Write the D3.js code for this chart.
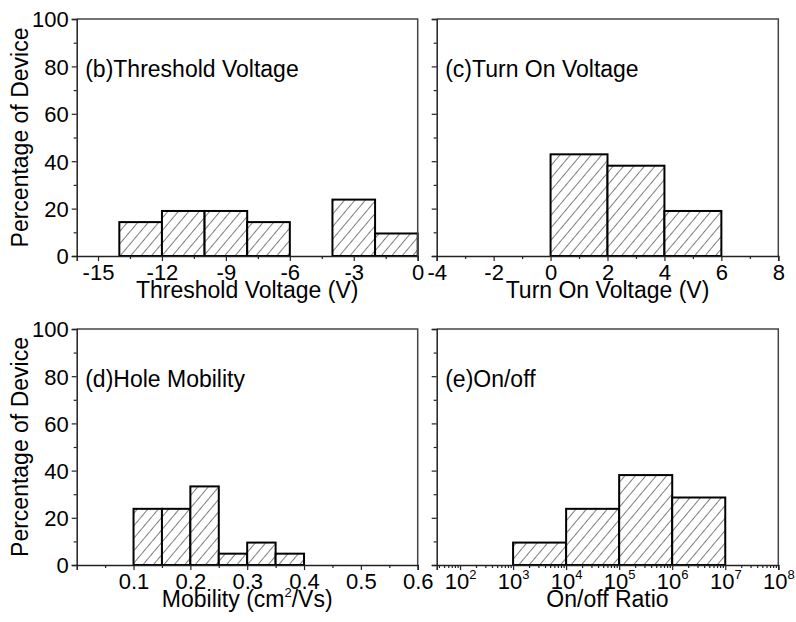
<!DOCTYPE html>
<html>
<head>
<meta charset="utf-8">
<script src="https://cdn.jsdelivr.net/npm/d3@7"></script>
<style>
  html, body { margin: 0; padding: 0; background: #fff; }
  svg text { font-family: "Liberation Sans", Arial, sans-serif; fill: #000; }
</style>
</head>
<body>
<svg id="chart" width="796" height="622"></svg>
<script>
// ---------------- DATA ----------------
const thresholdLo  = [-14, -12, -10, -8, -4, -2];
const thresholdHi  = [-12, -10, -8, -6, -2, 0];
const thresholdPct = [14.3, 19.0, 19.0, 14.3, 23.8, 9.5];

const turnOnLo  = [0, 2, 4];
const turnOnHi  = [2, 4, 6];
const turnOnPct = [42.9, 38.1, 19.0];

const mobilityLo  = [0.10, 0.15, 0.20, 0.25, 0.30, 0.35];
const mobilityHi  = [0.15, 0.20, 0.25, 0.30, 0.35, 0.40];
const mobilityPct = [23.8, 23.8, 33.3, 4.8, 9.5, 4.8];

const onoffLo  = [1e3, 1e4, 1e5, 1e6];
const onoffHi  = [1e4, 1e5, 1e6, 1e7];
const onoffPct = [9.5, 23.8, 38.1, 28.6];

const yTicks = [0, 20, 40, 60, 80, 100];
const yMinor = [10, 30, 50, 70, 90];
const thresholdTicks = [-15, -12, -9, -6, -3, 0];
const thresholdMinor = [-13.5, -10.5, -7.5, -4.5, -1.5];
const turnOnTicks = [-4, -2, 0, 2, 4, 6, 8];
const turnOnMinor = [-3, -1, 1, 3, 5, 7];
const mobilityTicks = [0.1, 0.2, 0.3, 0.4, 0.5, 0.6];
const mobilityMinor = [0.05, 0.15, 0.25, 0.35, 0.45, 0.55];
const onoffTickExp = [2, 3, 4, 5, 6, 7, 8];

const yTitle = "Percentage of Device";

// ---------------- DRAW ----------------
const svg = d3.select("#chart");
const defs = svg.append("defs");
const pat = defs.append("pattern")
  .attr("id", "hatch").attr("patternUnits", "userSpaceOnUse")
  .attr("width", 8).attr("height", 8)
  .attr("patternTransform", "rotate(40)");
pat.append("rect").attr("width", 8).attr("height", 8).attr("fill", "#fff");
pat.append("line").attr("x1", 0).attr("y1", 0).attr("x2", 0).attr("y2", 8)
  .attr("stroke", "#000").attr("stroke-width", 1);

const LEFT = [76.7, 417.7], RIGHT = [436.7, 778.3];
const TOP = [256, 19], BOTTOM = [565, 329];
const TICK_FS = "22px", TXT_FS = "23px";

function panel(opts) {
  const x = opts.x, y = d3.scaleLinear().domain([0, 100]).range(opts.yr);
  const g = svg.append("g");
  const [x0, x1] = opts.xr, [yb, yt] = opts.yr;

  // bars
  g.selectAll("rect.bar").data(opts.pct).join("rect")
    .attr("class", "bar")
    .attr("x", (d, i) => x(opts.lo[i]))
    .attr("width", (d, i) => x(opts.hi[i]) - x(opts.lo[i]))
    .attr("y", d => y(d))
    .attr("height", d => y(0) - y(d))
    .attr("fill", "url(#hatch)")
    .attr("stroke", "#000").attr("stroke-width", 2);

  // frame
  g.append("path")
    .attr("d", `M${x0},${yt}H${x1}V${yb}`)
    .attr("fill", "none").attr("stroke", "#444").attr("stroke-width", 1.5);

  // y axis
  const ya = d3.axisLeft(y).tickValues(yTicks).tickSize(5).tickPadding(3)
    .tickFormat(opts.yLabels ? (d => String(d)) : () => "");
  const yg = g.append("g").attr("transform", `translate(${x0},0)`).call(ya);
  yg.selectAll("line").attr("stroke", "#222").attr("stroke-width", 1.2);
  yg.select(".domain").attr("stroke", "#222").attr("stroke-width", 1.5);
  yg.selectAll("text").style("font-size", TICK_FS).attr("dy", "0.36em");
  g.append("g").attr("transform", `translate(${x0},0)`)
    .call(d3.axisLeft(y).tickValues(yMinor).tickSize(3).tickFormat(() => ""))
    .call(s => { s.select(".domain").remove(); s.selectAll("line").attr("stroke", "#222").attr("stroke-width", 1.2); });

  // x axis
  const xa = d3.axisBottom(x).tickValues(opts.xTicks).tickSize(5).tickPadding(3)
    .tickFormat(opts.xFormat || (() => ""));
  const xg = g.append("g").attr("transform", `translate(0,${yb})`).call(xa);
  xg.selectAll("line").attr("stroke", "#222").attr("stroke-width", 1.2);
  xg.select(".domain").attr("stroke", "#222").attr("stroke-width", 1.5);
  xg.selectAll("text").style("font-size", TICK_FS);
  if (opts.xLabelFn) {
    xg.selectAll(".tick text").text(null).each(function(d) { opts.xLabelFn(d3.select(this), d); });
  }
  g.append("g").attr("transform", `translate(0,${yb})`)
    .call(d3.axisBottom(x).tickValues(opts.xMinor).tickSize(3).tickFormat(() => ""))
    .call(s => { s.select(".domain").remove(); s.selectAll("line").attr("stroke", "#222").attr("stroke-width", 1.2); });

  // panel label
  g.append("text").attr("x", x0 + 8.5).attr("y", yt + 58)
    .style("font-size", TXT_FS).text(opts.label);

  // x title
  const xt = g.append("text").attr("x", (x0 + x1) / 2).attr("y", yb + 42)
    .attr("text-anchor", "middle").style("font-size", TXT_FS);
  opts.xTitle(xt);

  // y title
  if (opts.yLabels) {
    g.append("text")
      .attr("transform", `translate(28,${(yt + yb) / 2}) rotate(-90)`)
      .attr("text-anchor", "middle").style("font-size", TXT_FS).text(yTitle);
  }
}

const plain = d => String(d);

// (b)
panel({
  x: d3.scaleLinear().domain([-16, 0]).range(LEFT), xr: LEFT, yr: TOP,
  lo: thresholdLo, hi: thresholdHi, pct: thresholdPct,
  xTicks: thresholdTicks, xMinor: thresholdMinor, xFormat: plain,
  yLabels: true, label: "(b)Threshold Voltage",
  xTitle: t => t.text("Threshold Voltage (V)")
});
// (c)
panel({
  x: d3.scaleLinear().domain([-4, 8]).range(RIGHT), xr: RIGHT, yr: TOP,
  lo: turnOnLo, hi: turnOnHi, pct: turnOnPct,
  xTicks: turnOnTicks, xMinor: turnOnMinor, xFormat: plain,
  yLabels: false, label: "(c)Turn On Voltage",
  xTitle: t => t.text("Turn On Voltage (V)")
});
// (d)
panel({
  x: d3.scaleLinear().domain([0, 0.6]).range(LEFT), xr: LEFT, yr: BOTTOM,
  lo: mobilityLo, hi: mobilityHi, pct: mobilityPct,
  xTicks: mobilityTicks, xMinor: mobilityMinor, xFormat: d3.format(".1f"),
  yLabels: true, label: "(d)Hole Mobility",
  xTitle: t => {
    t.append("tspan").text("Mobility (cm");
    t.append("tspan").attr("dy", -10).style("font-size", "13px").text("2");
    t.append("tspan").attr("dy", 10).text("/Vs)");
  }
});
// (e)
const logMinor = [];
for (let e = 1; e < 8; e++) for (let m = 2; m <= 9; m++) {
  const v = m * Math.pow(10, e);
  if (v > Math.pow(10, 1.56) && v < 1e8) logMinor.push(v);
}
panel({
  x: d3.scaleLog().domain([Math.pow(10, 1.56), 1e8]).range(RIGHT), xr: RIGHT, yr: BOTTOM,
  lo: onoffLo, hi: onoffHi, pct: onoffPct,
  xTicks: onoffTickExp.map(e => Math.pow(10, e)), xMinor: logMinor,
  xFormat: d => "",
  xLabelFn: (sel, d) => {
    sel.append("tspan").text("10");
    sel.append("tspan").attr("dy", -10).style("font-size", "13px").text(String(Math.round(Math.log10(d))));
  },
  yLabels: false, label: "(e)On/off",
  xTitle: t => t.text("On/off Ratio")
});
</script>
</body>
</html>
